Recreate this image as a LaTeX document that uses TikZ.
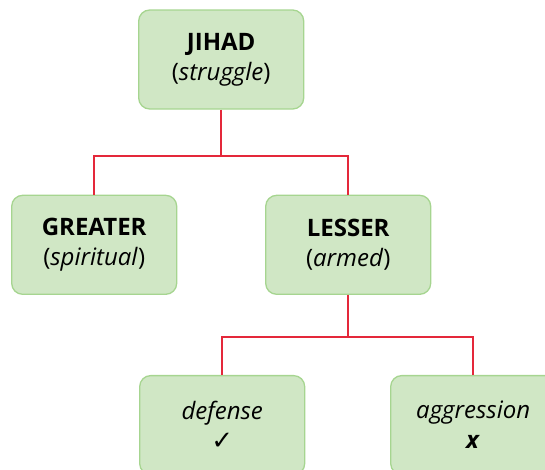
\documentclass[tikz,border=0pt]{standalone}
\usepackage{fontspec}
\setmainfont{Open Sans}
\newfontfamily\symfont{DejaVu Sans}
\usetikzlibrary{positioning}

\definecolor{boxfill}{HTML}{D0E7C5}
\definecolor{boxline}{HTML}{A6D590}
\definecolor{linkred}{HTML}{E4283A}

\tikzset{
  termbox/.style={draw=boxline,fill=boxfill,line width=1.3pt,rounded corners=11pt,
    minimum width=165pt,minimum height=99pt,align=center,
    font=\fontsize{24}{30}\selectfont},
  link/.style={draw=linkred,line width=1.9pt}
}

\begin{document}
\begin{tikzpicture}[x=1pt,y=-1pt]
\clip (0,0) rectangle (545,469);

\node[termbox](jihad) at (221.2,59.5){\textbf{JIHAD}\\(\textit{struggle})};
\node[termbox](greater)[below=85pt of jihad,xshift=-127pt]{\textbf{GREATER}\\(\textit{spiritual})};
\node[termbox](lesser)[below=85pt of jihad,xshift=127pt]{\textbf{LESSER}\\(\textit{armed})};
\node[termbox](defense)[below=80pt of lesser,xshift=-126pt]{\textit{defense}\\{\symfont\fontsize{26}{30}\selectfont ✓}};
\node[termbox](aggression)[below=80pt of lesser,xshift=125pt]{\textit{aggression}\\\textbf{\textit{x}}};

% tree links
\draw[link](jihad.south)--++(0,46) coordinate(fork1) -|(greater.north);
\draw[link](fork1)-|(lesser.north);
\draw[link](lesser.south)--++(0,42) coordinate(fork2) -|(defense.north);
\draw[link](fork2)-|(aggression.north);

\end{tikzpicture}
\end{document}
